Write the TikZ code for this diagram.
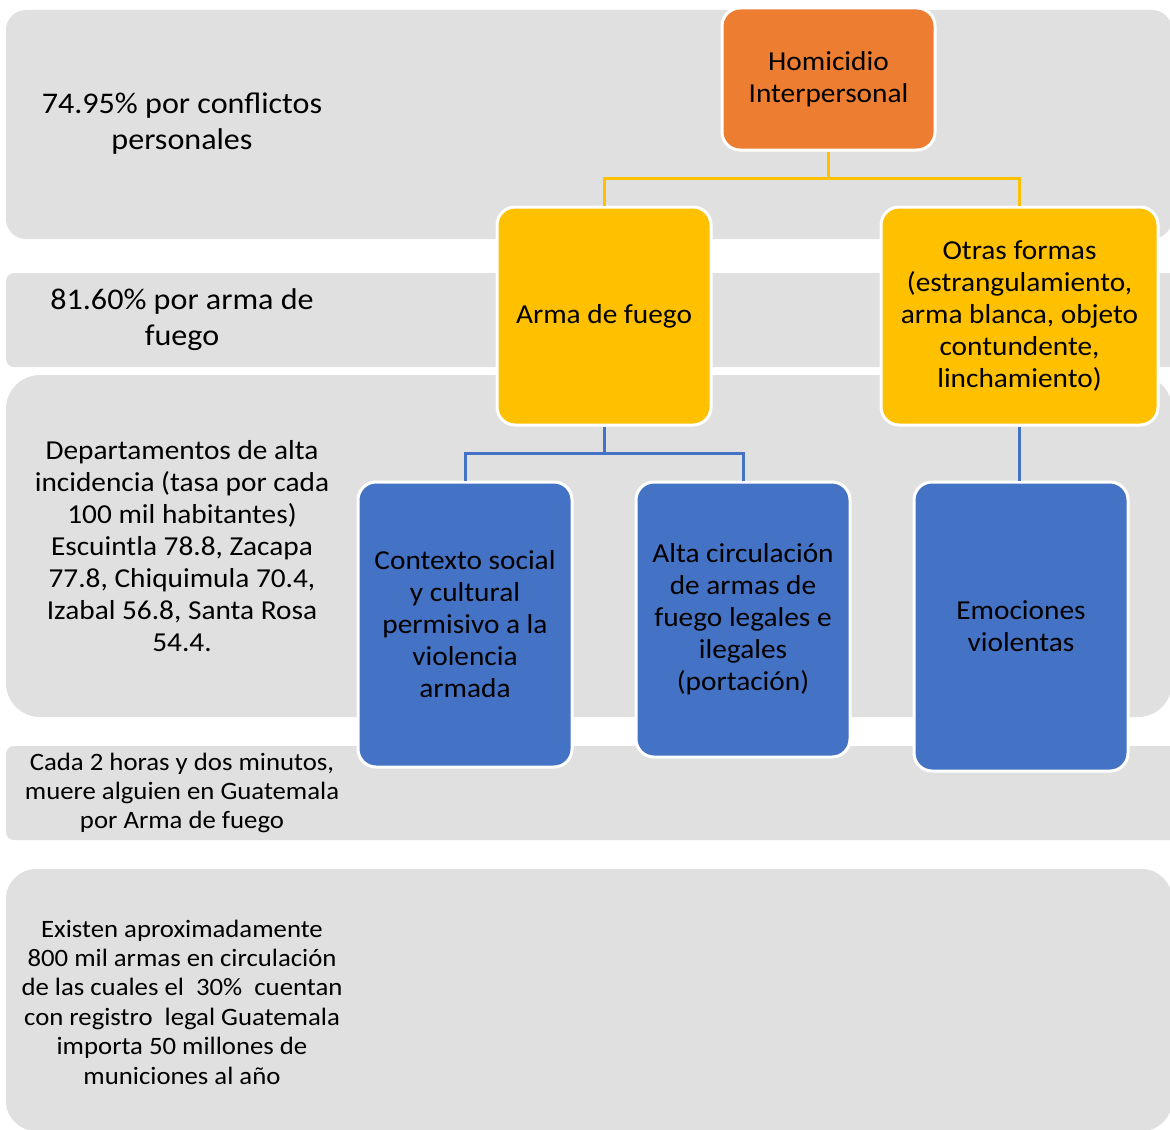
\documentclass[tikz,border=0pt]{standalone}
\usepackage{fontspec}
\setmainfont{Carlito}[FakeStretch=1.07]
\usepackage{tikz}
\usepackage{color}
\definecolor{bandgray}{HTML}{E0E0E0}
\definecolor{orangebox}{HTML}{ED7D31}
\definecolor{yellowbox}{HTML}{FFC000}
\definecolor{bluebox}{HTML}{4472C4}

\begin{document}
\begin{tikzpicture}[x=0.5pt, y=-0.5pt,
        box/.style={draw=white, line width=1.5pt, rounded corners=9pt, align=center,
            inner sep=2pt, font=\fontsize{13.7}{16}\selectfont},
        lvlzero/.style={box, fill=orangebox, minimum width=106.5pt, minimum height=71pt},
        lvlone/.style={box, fill=yellowbox, minimum height=109pt},
        lvltwo/.style={box, fill=bluebox, minimum width=107pt},
        side/.style={align=center, inner sep=0pt},
        link/.style={line width=1.5pt}]
            \useasboundingbox (0,0) rectangle (1170,1129);
            \clip (0,0) rectangle (1170,1129);
            \foreach \t/\b/\r/\e in {10/239/10/1172, 273/367/4/1185, 375/717/17/1172, 746/840/4/1185, 869/1131/15/1172} {
                \fill[bandgray, rounded corners=\r pt] (6,\t) rectangle (\e,\b);
            }
            \node[side, font=\fontsize{15}{18}\selectfont] (conflictos) at (182,124) {74.95\% por conflictos\\personales};
            \node[side, font=\fontsize{15}{18}\selectfont] (armapct) at (182,320) {81.60\% por arma de\\fuego};
            \node[side, font=\fontsize{13.7}{16}\selectfont] (departamentos) at (182,546) {Departamentos de alta\\incidencia (tasa por cada\\100 mil habitantes)\\Escuintla 78.8, Zacapa\\77.8, Chiquimula 70.4,\\Izabal 56.8, Santa Rosa\\54.4.};
            \node[side, font=\fontsize{12.5}{14.7}\selectfont] (cada) at (182,793) {Cada 2 horas y dos minutos,\\muere alguien en Guatemala\\por Arma de fuego};
            \node[side, font=\fontsize{12.5}{14.7}\selectfont] (existen) at (182,1002) {Existen aproximadamente\\800 mil armas en circulación\\de las cuales el~ 30\%~ cuentan\\con registro~ legal Guatemala\\importa 50 millones de\\municiones al año};
            \node[lvlzero] (homicidio) at (828.5,79) {Homicidio\\Interpersonal};
            \node[lvlone, minimum width=107pt] (arma) at (604,316) {Arma de fuego};
            \node[lvlone, minimum width=138.5pt] (otras) at (1019.5,316) {Otras formas\\(estrangulamiento,\\arma blanca, objeto\\contundente,\\linchamiento)};
            \node[lvltwo, minimum height=142.5pt] (contexto) at (465,624.5) {Contexto social\\y cultural\\permisivo a la\\violencia\\armada};
            \node[lvltwo, minimum height=137.5pt] (alta) at (743,619.5) {Alta circulación\\de armas de\\fuego legales e\\ilegales\\(portación)};
            \node[lvltwo, minimum height=144.5pt] (emociones) at (1021,626.5) {Emociones\\violentas};
            \coordinate (splitone) at (828.5,178);
            \coordinate (splittwo) at (604,453);
            \draw[link, yellowbox] (homicidio.south) -- (splitone);
            \draw[link, yellowbox] (arma.north) |- (splitone) -| (otras.north);
            \draw[link, bluebox] (arma.south) -- (splittwo);
            \draw[link, bluebox] (contexto.north) |- (splittwo) -| (alta.north);
            \draw[link, bluebox] (otras.south) -- (otras.south |- emociones.north);
\end{tikzpicture}
\end{document}
